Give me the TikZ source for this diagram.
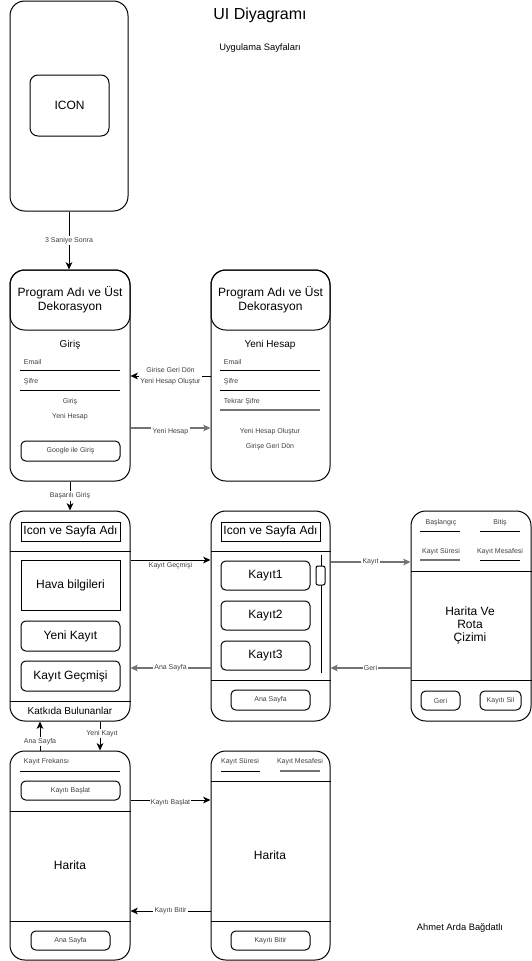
\documentclass[tikz,border=0pt]{standalone}
\usepackage{fontspec}
\setmainfont{Liberation Sans}
\usetikzlibrary{arrows.meta, positioning, fit}

\begin{document}
\begin{tikzpicture}[x=0.75pt, y=-0.75pt, line width=0.75pt,
  phone/.style={draw, rounded corners=11pt, inner sep=0pt},
  btn/.style={draw, rounded corners=3.5pt, inner sep=0pt},
  box/.style={draw, inner sep=0pt},
  bigtxt/.style={font=\fontsize{9}{10.5}\selectfont, align=center},
  midtxt/.style={font=\fontsize{7.5}{9}\selectfont},
  smalltxt/.style={font=\fontsize{5.25}{8}\selectfont, text=black!75},
  big label/.style={label={[bigtxt]center:#1}},
  small label/.style={label={[smalltxt]center:#1}},
  elbl/.style={font=\fontsize{5.25}{8}\selectfont, text=black!75, fill=white, inner sep=1pt, align=center},
  arr/.style={-{Stealth[length=5.5pt, width=5pt, inset=1.5pt]}},
  soft/.style={draw=black!55, line width=1.1pt}
]
  \useasboundingbox (0,0) rectangle (532,961);
  % Title
  \node[font=\fontsize{12}{14}\selectfont] (title) at (260,15) {UI Diyagramı};
  \node[font=\fontsize{7}{8}\selectfont] (subtitle) at (260,48) {Uygulama Sayfaları};

  % Splash screen
  \node[phone, fit={(10,1) (128,211)}] (splash) {};
  \node[btn, rounded corners=6pt, big label=ICON, fit={(30,75) (109,136)}] (icon) {};

  % Login
  \node[phone, fit={(10,270) (130,481)}] (login) {};
  \node[phone, big label={Program Adı ve Üst\\Dekorasyon}, fit={(10,270) (130,330)}] (loginhead) {};
  \node[midtxt] (logintitle) at (70,345) {Giriş};
  \node[smalltxt, anchor=west] (lemail) at (19,362) {Email};
  \draw (20,370) -- (120,370);
  \node[smalltxt, anchor=west] (lpass) at (19,382) {Şifre};
  \draw (20,390) -- (120,390);
  \node[smalltxt] (lgiris) at (70,402) {Giriş};
  \node[smalltxt] (lnew) at (70,417) {Yeni Hesap};
  \node[btn, small label={Google ile Giriş}, fit={(21,441) (120,461)}] (google) {};

  % Sign up
  \node[phone, fit={(211,270) (330,481)}] (signup) {};
  \node[phone, big label={Program Adı ve Üst\\Dekorasyon}, fit={(211,270) (330,330)}] (signuphead) {};
  \node[midtxt] (signuptitle) at (270,345) {Yeni Hesap};
  \node[smalltxt, anchor=west] (semail) at (219,362) {Email};
  \draw (220,370) -- (320,370);
  \node[smalltxt, anchor=west] (spass) at (219,382) {Şifre};
  \draw (220,390) -- (320,390);
  \node[smalltxt, anchor=west] (spass2) at (219,402) {Tekrar Şifre};
  \draw[soft] (220,410) -- (320,410);
  \node[smalltxt] (screate) at (270,432) {Yeni Hesap Oluştur};
  \node[smalltxt] (sback) at (270,447) {Girişe Geri Dön};

  % Home
  \node[phone, fit={(10,511) (130,721)}] (home) {};
  \draw (home.west |- 0,551) -- (home.east |- 0,551);
  \node[box, big label={Icon ve Sayfa Adı}, fit={(21,522) (120,541)}] (homebar) {};
  \node[box, big label={Hava bilgileri}, fit={(21,560) (120,610)}] (weather) {};
  \node[btn, big label={Yeni Kayıt}, fit={(21,621) (120,651)}] (newrec) {};
  \node[btn, big label={Kayıt Geçmişi}, fit={(21,661) (120,691)}] (histbtn) {};
  \draw (home.west |- 0,701) -- (home.east |- 0,701);
  \node[midtxt] (credits) at (70,711) {Katkıda Bulunanlar};

  % History
  \node[phone, fit={(211,511) (330,721)}] (history) {};
  \draw (history.west |- 0,551) -- (history.east |- 0,551);
  \node[box, big label={Icon ve Sayfa Adı}, fit={(221,522) (320,541)}] (histbar) {};
  \node[btn, big label=Kayıt1, fit={(221,561) (310,590)}] (rec1) {};
  \node[btn, big label=Kayıt2, fit={(221,601) (310,630)}] (rec2) {};
  \node[btn, big label=Kayıt3, fit={(221,641) (310,670)}] (rec3) {};
  \draw (321,555) -- (321,673);
  \node[btn, rounded corners=1.5pt, fill=white, fit={(316,566) (325,585)}] (thumb) {};
  \draw (history.west |- 0,680) -- (history.east |- 0,680);
  \node[btn, small label={Ana Sayfa}, fit={(231,690) (310,710)}] (histhome) {};

  % Route
  \node[phone, fit={(411,511) (531,721)}] (route) {};
  \node[smalltxt] (rstart) at (441,523) {Başlangıç};
  \draw (420,531) -- (460,531);
  \node[smalltxt] (rend) at (500,523) {Bitiş};
  \draw (480,531) -- (520,531);
  \node[smalltxt] (rtime) at (441,552) {Kayıt Süresi};
  \draw[soft] (420,560) -- (460,560);
  \node[smalltxt] (rdist) at (500,552) {Kayıt Mesafesi};
  \draw (480,560) -- (520,560);
  \draw (route.west |- 0,571) -- (route.east |- 0,571);
  \node[font=\fontsize{9}{9.75}\selectfont, align=center] (routemap) at (470,625) {Harita Ve\\Rota\\Çizimi};
  \draw (route.west |- 0,680) -- (route.east |- 0,680);
  \node[btn, small label=Geri, fit={(421,691) (460,710)}] (rback) {};
  \node[btn, small label={Kayıtı Sil}, fit={(480,691) (521,710)}] (rdel) {};

  % New record
  \node[phone, fit={(10,751) (130,960)}] (record) {};
  \node[smalltxt, anchor=west] (rfreq) at (19,762) {Kayıt Frekansı};
  \draw (20,771) -- (120,771);
  \node[btn, small label={Kayıtı Başlat}, fit={(21,781) (120,800)}] (startbtn) {};
  \draw (record.west |- 0,811) -- (record.east |- 0,811);
  \node[bigtxt] (recmap) at (70,865) {Harita};
  \draw (record.west |- 0,921) -- (record.east |- 0,921);
  \node[btn, small label={Ana Sayfa}, fit={(31,931) (110,950)}] (rechome) {};

  % Recording
  \node[phone, fit={(211,751) (330,960)}] (live) {};
  \node[smalltxt] (ltime) at (240,762) {Kayıt Süresi};
  \draw (221,771) -- (260,771);
  \node[smalltxt] (ldist) at (300,762) {Kayıt Mesafesi};
  \draw[soft] (280,771) -- (320,771);
  \draw (live.west |- 0,781) -- (live.east |- 0,781);
  \node[bigtxt] (livemap) at (270,855) {Harita};
  \draw (live.west |- 0,921) -- (live.east |- 0,921);
  \node[btn, small label={Kayıtı Bitir}, fit={(231,931) (310,950)}] (stopbtn) {};

  % Connectors
  \draw[arr] (splash.south) -- (splash.south |- login.north) node[elbl, midway] {3 Saniye Sonra};
  \draw[arr] (signup.west |- 0,376) -- (login.east |- 0,376) node[elbl, midway] {Girise Geri Dön\\Yeni Hesap Oluştur};
  \draw[arr, soft] (login.east |- 0,428) -- (signup.west |- 0,428) node[elbl, midway, yshift=-3pt] {Yeni Hesap};
  \draw[arr] (login.south) -- (home.north) node[elbl, midway] {Başarılı Giriş};
  \draw[arr] (home.east |- 0,560) -- (history.west |- 0,560) node[elbl, midway, yshift=-4pt] {Kayıt Geçmişi};
  \draw[arr, soft] (history.west |- 0,668) -- (home.east |- 0,668) node[elbl, midway] {Ana Sayfa};
  \draw[arr, soft] (history.east |- 0,562) -- (route.west |- 0,562) node[elbl, midway] {Kayıt};
  \draw[arr, soft] (route.west |- 0,668) -- (history.east |- 0,668) node[elbl, midway] {Geri};
  \draw[arr] (record.north -| 40,0) -- (home.south -| 40,0) node[elbl, midway, yshift=-4pt] {Ana Sayfa};
  \draw[arr] (home.south -| 100,0) -- (record.north -| 100,0) node[elbl, midway, xshift=1.5pt, yshift=2pt] {Yeni Kayıt};
  \draw[arr] (record.east |- 0,800) -- (live.west |- 0,800) node[elbl, midway, yshift=-2pt] {Kayıtı Başlat};
  \draw[arr] (live.west |- 0,911) -- (record.east |- 0,911) node[elbl, midway] {Kayıtı Bitir};

  % Author
  \node[font=\fontsize{7}{8}\selectfont] (author) at (460,928) {Ahmet Arda Bağdatlı};
\end{tikzpicture}
\end{document}
